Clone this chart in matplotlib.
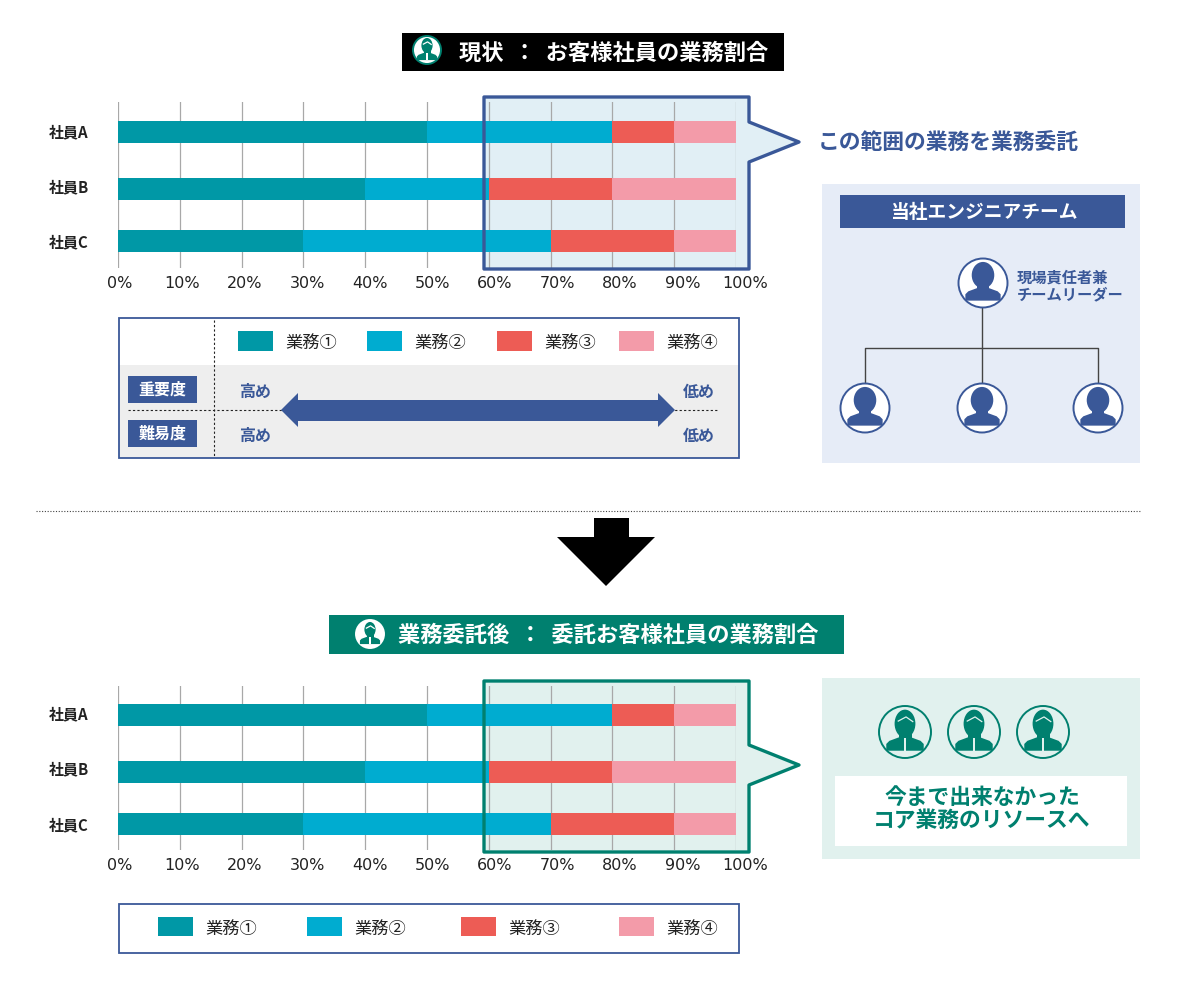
import matplotlib
matplotlib.use('Agg')
import matplotlib.pyplot as plt
from matplotlib.patches import Rectangle, Circle, Ellipse, Polygon
from matplotlib.transforms import ScaledTranslation

plt.rcParams['font.family'] = ['Noto Sans CJK JP', 'DejaVu Sans']

employees = ['社員A', '社員B', '社員C']
task_names = ['業務①', '業務②', '業務③', '業務④']
task1 = [50, 40, 30]
task2 = [30, 20, 40]
task3 = [10, 20, 20]
task4 = [10, 20, 10]
pct_ticks = [0, 10, 20, 30, 40, 50, 60, 70, 80, 90, 100]

TASK_COLORS = ['#0098a6', '#00acd0', '#ed5c55', '#f39ba9']
BLUE = '#3a5898'
GREEN = '#00806f'
W, H = 1191, 988

fig = plt.figure(figsize=(W / 100, H / 100), dpi=100)


def px_axes(zorder):
    a = fig.add_axes([0, 0, 1, 1], zorder=zorder)
    a.set_xlim(0, W)
    a.set_ylim(H, 0)
    a.axis('off')
    a.patch.set_alpha(0)
    return a


bg = px_axes(0)
fg = px_axes(5)


def rect(a, x0, y0, x1, y1, **kw):
    kw.setdefault('lw', 0)
    a.add_patch(Rectangle((x0, y0), x1 - x0, y1 - y0, **kw))


def label(a, x, y, s, size, color='#222222', weight='bold', ha='center'):
    # Noto sits a bit high with va=center
    a.text(x, y + 1.5, s, fontsize=size, color=color, fontweight=weight, ha=ha, va='center')


def person(a, cx, cy, r, color, suit=False, face='white', edge=None):
    a.add_patch(Circle((cx, cy), r, fc=face, ec=edge or color, lw=1.4, zorder=3))
    hw = 0.80 if suit else 0.92
    a.add_patch(Ellipse((cx, cy - 0.32 * r), hw * r, 1.08 * r, fc=color, lw=0, zorder=4))
    a.add_patch(Rectangle((cx - 0.25 * r, cy), 0.5 * r, 0.4 * r, fc=color, lw=0, zorder=4))
    body = [(-0.72, 0.72), (-0.72, 0.46), (-0.6, 0.34), (-0.22, 0.2),
            (0.22, 0.2), (0.6, 0.34), (0.72, 0.46), (0.72, 0.72)]
    a.add_patch(Polygon([(cx + bx * r, cy + by * r) for bx, by in body], closed=True,
                        fc=color, lw=0, zorder=4))
    if suit:
        a.plot([cx - 0.26 * r, cx + 0.04 * r, cx + 0.3 * r],
               [cy - 0.42 * r, cy - 0.58 * r, cy - 0.4 * r], color=face, lw=0.9, zorder=5)
        a.add_patch(Rectangle((cx - 0.05 * r, cy + 0.22 * r), 0.1 * r, 0.5 * r, fc=face, lw=0, zorder=5))


def callout(x0, y0, x1, y1, tip_y, tip_x, fill, edge):
    pts = [(x0, y0), (x1, y0), (x1, tip_y - 20), (tip_x, tip_y), (x1, tip_y + 20), (x1, y1), (x0, y1)]
    bg.add_patch(Polygon(pts, closed=True, fc=fill, lw=0))
    fg.add_patch(Polygon(pts, closed=True, fc='none', ec=edge, lw=2.4, joinstyle='round'))


def stacked(y_top, y_bot, centres, label_y):
    ax = fig.add_axes([118 / W, 1 - y_bot / H, (736 - 118) / W, (y_bot - y_top) / H], zorder=2)
    ax.patch.set_alpha(0)
    left = [0, 0, 0]
    for vals, col in zip([task1, task2, task3, task4], TASK_COLORS):
        ax.barh(centres, vals, height=22, left=left, color=col, zorder=3)
        left = [l + v for l, v in zip(left, vals)]
    ax.set_xlim(0, 100)
    ax.set_ylim(y_bot, y_top)
    ax.set_xticks(pct_ticks)
    ax.set_xticklabels(['%d%%' % t for t in pct_ticks])
    ax.set_yticks(label_y)
    ax.set_yticklabels(employees, fontsize=10.8, fontweight='bold', color='#222222')
    ax.tick_params(axis='both', length=0)
    ax.tick_params(axis='x', pad=6)
    ax.tick_params(axis='y', pad=21)
    ax.grid(axis='x', color='#a8a8a8', lw=0.9, zorder=1)
    ax.set_axisbelow(True)
    for s in ax.spines.values():
        s.set_visible(False)
    # the labels in the source drift a little to the right of their grid lines
    for t, lab in zip(pct_ticks, ax.get_xticklabels()):
        lab.set_fontfamily('DejaVu Sans')
        lab.set_fontsize(11.5)
        lab.set_color('#222222')
        lab.set_transform(lab.get_transform() + ScaledTranslation((2 + 0.07 * t) / 100, 0, fig.dpi_scale_trans))


def legend_row(a, swatches, y0, y1, ty):
    for name, col, sx in zip(task_names, TASK_COLORS, swatches):
        rect(a, sx, y0, sx + 35, y1, fc=col)
        label(a, sx + 47, ty, name, 12.4, weight='normal', ha='left')


# top section
rect(bg, 402, 33, 784, 71, fc='black')
person(bg, 427, 50, 14, GREEN, suit=True, edge=GREEN)
label(bg, 614, 51.5, '現状  ：  お客様社員の業務割合', 16, color='white')
callout(484, 97, 749, 269, 142, 799, '#e1eff5', BLUE)
stacked(102, 268, [132, 189, 241], [131, 186, 241])
label(bg, 948, 142, 'この範囲の業務を業務委託', 15.7, color=BLUE)

# legend box with importance arrow
rect(bg, 119, 365, 739, 458, fc='#eeeeee')
rect(bg, 119, 318, 739, 458, fc='none', ec=BLUE, lw=1.3)
bg.plot([214, 214], [320, 456], color='#222222', lw=0.8, ls=(0, (2, 2)))
bg.plot([128, 718], [410, 410], color='#222222', lw=0.8, ls=(0, (2, 2)))
legend_row(bg, [238, 367, 497, 619], 331, 351, 341)
for ty, tag in [(389.5, '重要度'), (433.5, '難易度')]:
    rect(bg, 128, ty - 13.5, 197, ty + 13.5, fc=BLUE)
    label(bg, 162.5, ty - 1, tag, 11.5, color='white')
    label(bg, 255, ty + 1, '高め', 11.5, color=BLUE)
    label(bg, 699, ty + 1, '低め', 11.5, color=BLUE)
bg.add_patch(Polygon([(281, 410), (298, 393), (298, 400), (658, 400), (658, 393), (675, 410),
                      (658, 427), (658, 421), (298, 421), (298, 427)], closed=True, fc=BLUE, lw=0, zorder=3))

# team panel
rect(bg, 822, 184, 1140, 463, fc='#e6ecf7')
rect(bg, 840, 195, 1125, 228, fc=BLUE)
label(bg, 984, 211, '当社エンジニアチーム', 13.5, color='white')
bg.plot([982, 982], [300, 385], color='#444444', lw=1)
bg.plot([865, 865, 1098, 1098], [385, 348.5, 348.5, 385], color='#444444', lw=1)
person(bg, 983, 283, 24.5, BLUE)
for cx in [865, 982, 1098]:
    person(bg, cx, 408, 24.5, BLUE)
label(bg, 1017, 276, '現場責任者兼', 11, color=BLUE, ha='left')
label(bg, 1017, 293, 'チームリーダー', 11, color=BLUE, ha='left')

# divider and arrow
bg.plot([36, 1140], [510.5, 510.5], color='#444444', lw=0.8, ls=(0, (1, 1.5)))
bg.add_patch(Polygon([(594, 518), (629, 518), (629, 537), (655, 537), (606, 586), (557, 537), (594, 537)],
                     closed=True, fc='black', lw=0))

# bottom section
rect(bg, 329, 615, 844, 654, fc=GREEN)
person(bg, 370, 634, 14, GREEN, suit=True, edge='white')
label(bg, 608, 633.5, '業務委託後  ：  委託お客様社員の業務割合', 16, color='white')
callout(484, 681, 749, 852, 765, 799, '#e1f1ee', GREEN)
stacked(686, 850, [715, 772, 824], [713, 768, 824])

rect(bg, 119, 904, 739, 953, fc='white', ec=BLUE, lw=1.3)
legend_row(bg, [158, 307, 461, 619], 917, 936, 927)

rect(bg, 822, 678, 1140, 859, fc='#e1f1ee')
for cx in [905, 974, 1043]:
    person(bg, cx, 732, 26, GREEN, suit=True, face='#e1f1ee')
rect(bg, 835, 776, 1127, 846, fc='white')
label(bg, 982, 796, '今まで出来なかった', 15.7, color=GREEN)
label(bg, 982, 819, 'コア業務のリソースへ', 15.7, color=GREEN)

fig.savefig('out.png', dpi=100)
